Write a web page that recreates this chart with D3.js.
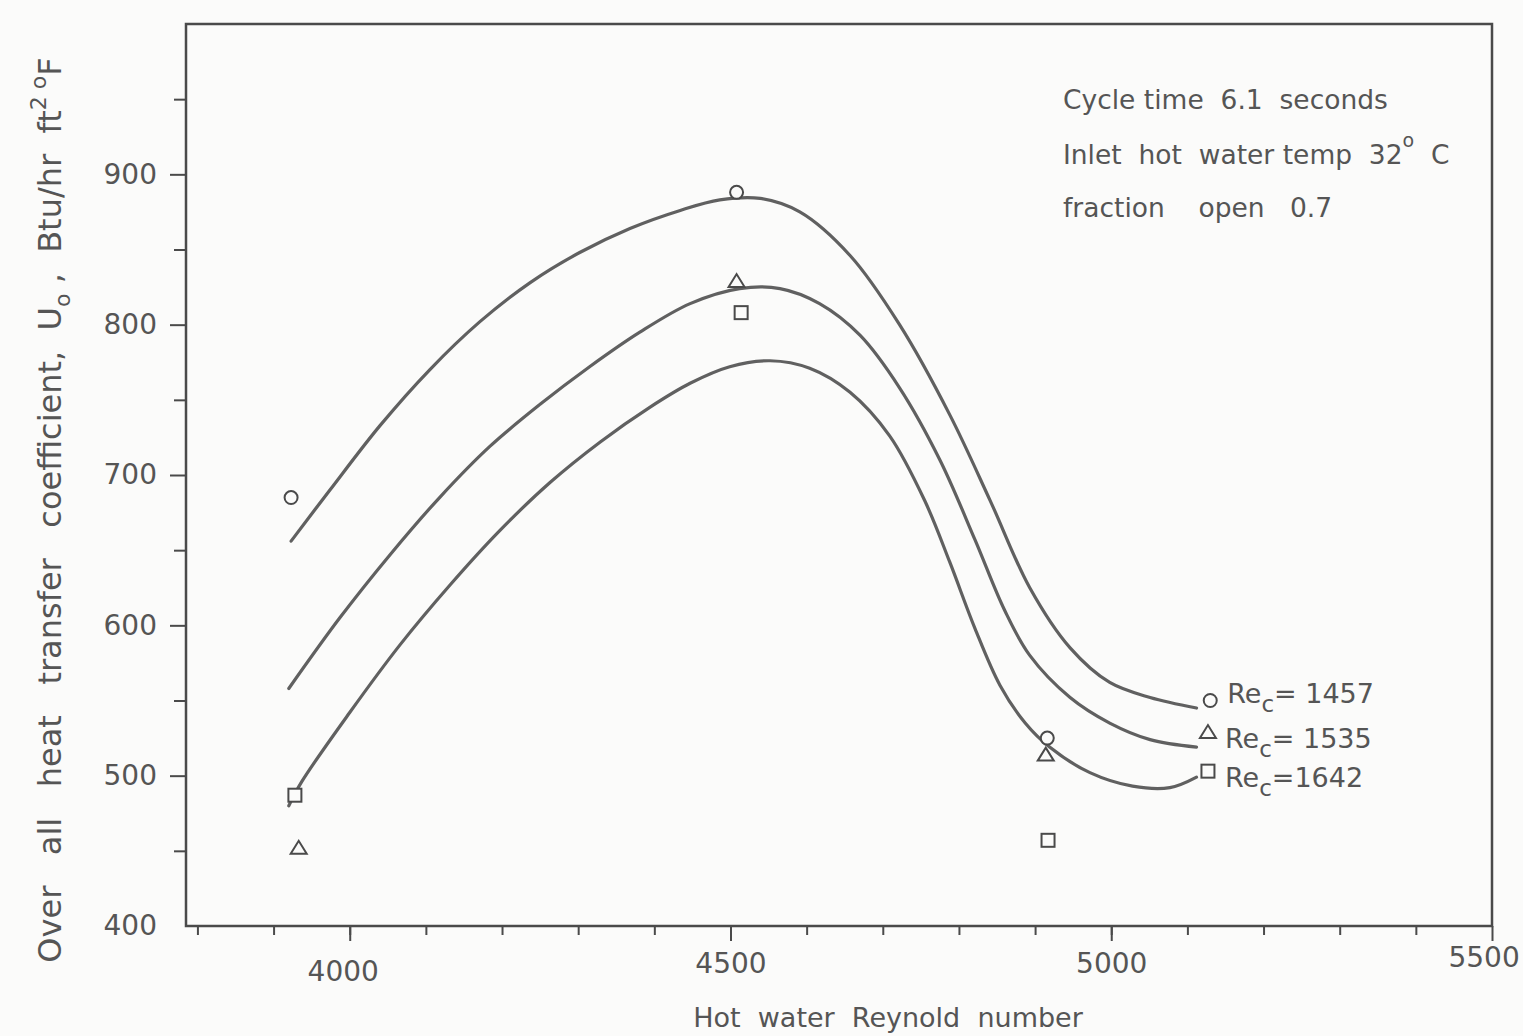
<!DOCTYPE html>
<html>
<head>
    <title>Overall heat transfer coefficient</title>
    <script src="https://cdn.jsdelivr.net/npm/d3@7"></script>
    <style>
        body { margin: 0; background: #fbfbfa; }
        text { font-family: "DejaVu Sans", sans-serif; fill: #555; }
    </style>
</head>
<body>
    <div id="chart"></div>
    <script>
        var xTicksMajor = [4000, 4500, 5000, 5500];
        var yTicksMajor = [400, 500, 600, 700, 800, 900];

        var series = ["1457", "1535", "1642"];

        // measured points (Re_h, U_o)
        var circleRe = [3923, 4508, 4916, 5130];
        var circleU = [685, 888, 525, 550];
        var triangleRe = [3933, 4508, 4914, 5127];
        var triangleU = [452, 829, 514, 529];
        var squareRe = [3928, 4514, 4917, 5127];
        var squareU = [487, 808, 457, 503];

        // hand-drawn fitted curves
        var curve1457Re = [3923, 3974, 4040, 4105, 4171, 4237, 4302, 4368, 4434, 4486, 4539, 4591, 4657, 4722, 4788, 4841, 4893, 4946, 4998, 5051, 5112];
        var curve1457U = [656, 690, 733, 770, 802, 828, 848, 864, 876, 883, 884, 875, 846, 800, 740, 683, 625, 585, 562, 552, 545];
        var curve1535Re = [3920, 3987, 4053, 4118, 4184, 4250, 4315, 4381, 4447, 4512, 4565, 4617, 4670, 4722, 4775, 4821, 4860, 4893, 4946, 4998, 5051, 5112];
        var curve1535U = [558, 605, 647, 685, 719, 747, 772, 795, 814, 824, 824, 814, 793, 758, 710, 657, 610, 580, 552, 535, 524, 519];
        var curve1642Re = [3920, 3937, 4000, 4066, 4132, 4197, 4263, 4329, 4394, 4447, 4499, 4552, 4604, 4657, 4709, 4755, 4788, 4821, 4854, 4887, 4919, 4972, 5028, 5077, 5112];
        var curve1642U = [480, 496, 542, 587, 627, 663, 695, 722, 745, 761, 772, 776, 771, 755, 726, 683, 642, 598, 560, 535, 519, 502, 493, 492, 499];

        var W = 1523, H = 1036;
        var margin = {left: 186, right: 1492, top: 24, bottom: 926};

        var x = d3.scaleLinear().domain([3785, 5500]).range([margin.left, margin.right]);
        var y = d3.scaleLinear().domain([400, 1000]).range([margin.bottom, margin.top]);

        var svg = d3.select("#chart").append("svg")
            .attr("width", W)
            .attr("height", H);

        var ink = "#4a4a4a";

        // minor ticks
        svg.append("g")
            .attr("transform", "translate(0," + margin.bottom + ")")
            .call(d3.axisBottom(x).tickValues(d3.range(3800, 5500, 100)).tickSize(9).tickSizeOuter(0).tickFormat(""));
        svg.append("g")
            .attr("transform", "translate(" + margin.left + ",0)")
            .call(d3.axisLeft(y).tickValues(d3.range(450, 1000, 100)).tickSize(12).tickSizeOuter(0).tickFormat(""));

        // major ticks + labels
        var xAxis = svg.append("g")
            .attr("transform", "translate(0," + margin.bottom + ")")
            .call(d3.axisBottom(x).tickValues(xTicksMajor).tickSize(15).tickPadding(12).tickSizeOuter(0).tickFormat(d3.format("d")));
        var yAxis = svg.append("g")
            .attr("transform", "translate(" + margin.left + ",0)")
            .call(d3.axisLeft(y).tickValues(yTicksMajor).tickSize(16).tickPadding(13).tickSizeOuter(0).tickFormat(d3.format("d")));

        svg.selectAll(".tick line").attr("stroke", ink).attr("stroke-width", 2);
        svg.selectAll(".domain").remove();
        xAxis.selectAll("text").style("font-size", "28px").style("fill", "#555").attr("font-family", null);
        yAxis.selectAll("text").style("font-size", "28px").style("fill", "#555").attr("font-family", null);
        // no tick mark drawn at 400 in the original
        yAxis.selectAll(".tick").filter(function(d) { return d === 400; }).select("line").remove();
        // 4000 label sits a bit left, 5500 left of the corner
        xAxis.selectAll(".tick").filter(function(d) { return d === 4000; }).select("text").attr("dx", "-0.25em").attr("dy", "1em");
        xAxis.selectAll(".tick").filter(function(d) { return d === 5500; }).select("text").attr("dx", "-0.3em").attr("dy", "0.5em");

        // frame
        svg.append("rect")
            .attr("x", margin.left).attr("y", margin.top)
            .attr("width", margin.right - margin.left).attr("height", margin.bottom - margin.top)
            .attr("fill", "none")
            .attr("stroke", ink)
            .attr("stroke-width", 2.5);

        // curves
        var line = d3.line()
            .x(function(d) { return x(d[0]); })
            .y(function(d) { return y(d[1]); })
            .curve(d3.curveCatmullRom.alpha(0.5));

        [[curve1457Re, curve1457U], [curve1535Re, curve1535U], [curve1642Re, curve1642U]].forEach(function(c) {
            svg.append("path")
                .datum(d3.zip(c[0], c[1]))
                .attr("fill", "none")
                .attr("stroke", "#606060")
                .attr("stroke-width", 3.2)
                .attr("stroke-linecap", "round")
                .attr("d", line);
        });

        // markers
        var markerStyle = function(sel) {
            sel.attr("fill", "#fbfbfa").attr("stroke", ink).attr("stroke-width", 2);
        };

        svg.selectAll(".circ")
            .data(d3.zip(circleRe, circleU))
            .enter().append("circle")
            .attr("cx", function(d) { return x(d[0]); })
            .attr("cy", function(d) { return y(d[1]); })
            .attr("r", 6.5)
            .call(markerStyle);

        svg.selectAll(".tri")
            .data(d3.zip(triangleRe, triangleU))
            .enter().append("path")
            .attr("transform", function(d) { return "translate(" + x(d[0]) + "," + y(d[1]) + ")"; })
            .attr("d", "M-8,6L8,6L0,-7Z")
            .call(markerStyle);

        svg.selectAll(".sq")
            .data(d3.zip(squareRe, squareU))
            .enter().append("rect")
            .attr("x", function(d) { return x(d[0]) - 6.5; })
            .attr("y", function(d) { return y(d[1]) - 6.5; })
            .attr("width", 13)
            .attr("height", 13)
            .call(markerStyle);

        // legend labels next to the last markers
        var lastPts = [
            [circleRe[3], circleU[3], series[0], "= "],
            [triangleRe[3], triangleU[3], series[1], "= "],
            [squareRe[3], squareU[3], series[2], "="]
        ];
        lastPts.forEach(function(p, i) {
            var t = svg.append("text")
                .attr("x", x(p[0]) + 17)
                .attr("y", y(p[1]) + [2, 16, 16][i])
                .attr("xml:space", "preserve")
                .style("font-size", "27px");
            t.append("tspan").text("Re");
            t.append("tspan").attr("dy", 9).style("font-size", "23px").text("c");
            t.append("tspan").attr("dy", -9).text(p[3] + p[2]);
        });

        // notes
        var notes = svg.append("g").style("font-size", "26.5px");
        notes.append("text").attr("x", 1063).attr("y", 109).attr("xml:space", "preserve").text("Cycle time  6.1  seconds");
        var n2 = notes.append("text").attr("x", 1063).attr("y", 164).attr("xml:space", "preserve");
        n2.append("tspan").text("Inlet  hot  water temp  32");
        n2.append("tspan").attr("dy", -17).style("font-size", "19px").text("o");
        n2.append("tspan").attr("dy", 17).text("  C");
        notes.append("text").attr("x", 1063).attr("y", 217).attr("xml:space", "preserve").text("fraction    open   0.7");

        // axis titles
        svg.append("text")
            .attr("x", 888)
            .attr("y", 1027)
            .attr("text-anchor", "middle")
            .attr("xml:space", "preserve")
            .style("font-size", "27px")
            .text("Hot  water  Reynold  number");

        var yt = svg.append("text")
            .attr("transform", "translate(61,510) rotate(-90)")
            .attr("text-anchor", "middle")
            .attr("xml:space", "preserve")
            .style("font-size", "32px");
        yt.append("tspan").text("Over   all   heat   transfer   coefficient,  U");
        yt.append("tspan").attr("dy", 9).style("font-size", "22px").text("o");
        yt.append("tspan").attr("dy", -9).text(" ,  Btu/hr  ft");
        yt.append("tspan").attr("dy", -15).style("font-size", "22px").text("2");
        yt.append("tspan").style("font-size", "22px").text(" o");
        yt.append("tspan").attr("dy", 15).text("F");
    </script>
</body>
</html>
